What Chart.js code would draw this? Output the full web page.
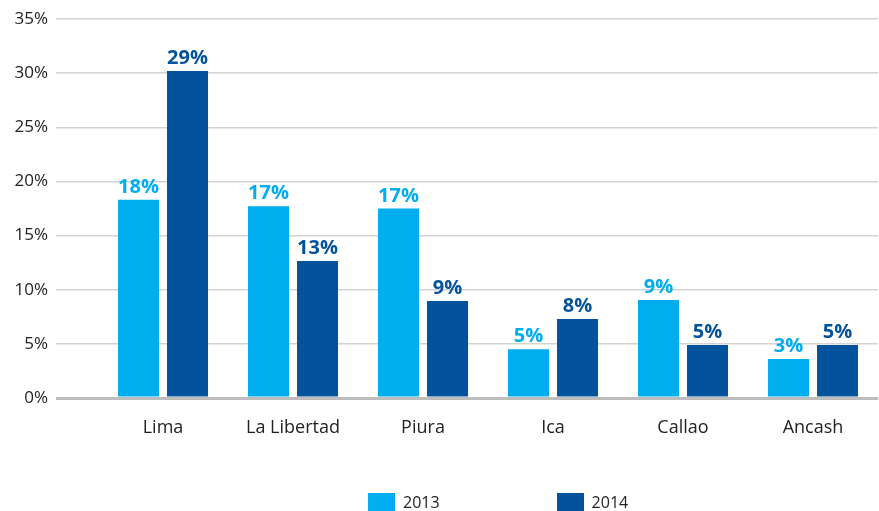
<!DOCTYPE html>
<html lang="es">
<head>
    <meta charset="UTF-8">
    <title>Regiones 2013 - 2014</title>
    <style>
        body {
            margin: 0;
            padding: 0;
            background: #fff;
            font-family: 'Open Sans', sans-serif;
        }

        .chart-box {
            position: relative;
            width: 879px;
            height: 511px;
        }

        /* Legend under the chart */
        .legend {
            position: absolute;
            left: 368px;
            top: 493px;
            display: flex;
            gap: 117px;
            font-size: 16px;
            color: #222;
        }

        .legend-item {
            display: flex;
            align-items: center;
            height: 18px;
        }

        .legend-box {
            width: 27px;
            height: 18px;
            margin-right: 8px;
        }
    </style>
</head>
<body>

    <div class="chart-box">
        <canvas id="regionChart"></canvas>
        <div class="legend" id="legend"></div>
    </div>

    <script src="https://cdn.jsdelivr.net/npm/chart.js"></script>
    <script>
        // Data
        const regions = ['Lima', 'La Libertad', 'Piura', 'Ica', 'Callao', 'Ancash'];
        const seriesNames = ['2013', '2014'];
        const values2013 = [18.3, 17.7, 17.5, 4.5, 9.05, 3.6];
        const values2014 = [30.2, 12.65, 8.95, 7.3, 4.9, 4.9];
        const labels2013 = ['18%', '17%', '17%', '5%', '9%', '3%'];
        const labels2014 = ['29%', '13%', '9%', '8%', '5%', '5%'];
        const yTicks = [0, 5, 10, 15, 20, 25, 30, 35];

        const color2013 = '#00adee';
        const color2014 = '#02529c';

        Chart.defaults.font.family = "'Open Sans', sans-serif";
        Chart.defaults.color = '#222';

        // Draw the percentage text above each bar
        const barLabels = {
            id: 'barLabels',
            afterDatasetsDraw(chart) {
                const ctx = chart.ctx;
                ctx.save();
                ctx.font = "bold 20px 'Open Sans', sans-serif";
                ctx.textAlign = 'center';
                ctx.textBaseline = 'alphabetic';
                chart.data.datasets.forEach((ds, i) => {
                    const meta = chart.getDatasetMeta(i);
                    meta.data.forEach((bar, j) => {
                        ctx.fillStyle = ds.backgroundColor;
                        ctx.fillText(ds.valueLabels[j], bar.x, bar.y - 7);
                    });
                });
                ctx.restore();
            }
        };

        const ctx = document.getElementById('regionChart').getContext('2d');
        const regionChart = new Chart(ctx, {
            type: 'bar',
            data: {
                labels: regions,
                datasets: [
                    {
                        label: seriesNames[0],
                        data: values2013,
                        valueLabels: labels2013,
                        backgroundColor: color2013,
                        categoryPercentage: 0.754,
                        barPercentage: 0.837
                    },
                    {
                        label: seriesNames[1],
                        data: values2014,
                        valueLabels: labels2014,
                        backgroundColor: color2014,
                        categoryPercentage: 0.754,
                        barPercentage: 0.837
                    }
                ]
            },
            options: {
                responsive: true,
                maintainAspectRatio: false,
                animation: false,
                layout: {
                    padding: { top: 19, right: 1, bottom: 0, left: 0 }
                },
                plugins: {
                    legend: { display: false },
                    tooltip: { enabled: false }
                },
                scales: {
                    x: {
                        grid: { display: false },
                        border: { display: false },
                        ticks: {
                            padding: 11,
                            font: { size: 18 },
                            color: '#222'
                        },
                        afterFit: function(scale) {
                            scale.height = 113;
                        }
                    },
                    y: {
                        min: 0,
                        max: 35,
                        afterBuildTicks: function(scale) {
                            scale.ticks = yTicks.map(v => ({ value: v }));
                        },
                        border: { display: false },
                        grid: {
                            color: c => (c.tick && c.tick.value === 0) ? '#bdbdbd' : '#d3d3d3',
                            lineWidth: c => (c.tick && c.tick.value === 0) ? 3 : 1.5,
                            tickLength: 42
                        },
                        ticks: {
                            padding: 8,
                            font: { size: 17 },
                            color: '#222',
                            callback: function(value) {
                                return value + '%';
                            }
                        },
                        afterFit: function(scale) {
                            scale.width = 98;
                        }
                    }
                }
            },
            plugins: [barLabels]
        });

        // Legend built from the datasets
        const legend = document.getElementById('legend');
        regionChart.data.datasets.forEach(ds => {
            const item = document.createElement('div');
            item.className = 'legend-item';
            item.innerHTML = '<span class="legend-box" style="background:' + ds.backgroundColor + '"></span>' + ds.label;
            legend.appendChild(item);
        });
    </script>

</body>
</html>
